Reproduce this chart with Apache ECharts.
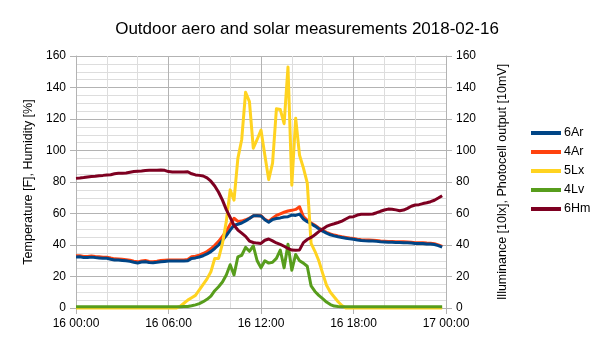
<!DOCTYPE html>
<html>
<head>
<meta charset="utf-8">
<script src="https://cdn.jsdelivr.net/npm/echarts@6/dist/echarts.min.js"></script>
<style>
  html, body { margin: 0; padding: 0; background: #fff; }
  #chart { width: 605px; height: 340px; }
</style>
</head>
<body>
<div id="chart"></div>
<script>
// Sample times, hours after 2018-02-16 00:00 (15-minute log)
const hours = [
  0, 0.25, 0.5, 0.75, 1, 1.25, 1.5, 1.75, 2, 2.25, 2.5, 2.75,
  3, 3.25, 3.5, 3.75, 4, 4.25, 4.5, 4.75, 5, 5.25, 5.5, 5.75,
  6, 6.25, 6.5, 6.75, 7, 7.25, 7.5, 7.75, 8, 8.25, 8.5, 8.75,
  9, 9.25, 9.5, 9.75, 10, 10.25, 10.5, 10.75, 11, 11.25, 11.5, 11.75,
  12, 12.25, 12.5, 12.75, 13, 13.25, 13.5, 13.75, 14, 14.25, 14.5, 14.75,
  15, 15.25, 15.5, 15.75, 16, 16.25, 16.5, 16.75, 17, 17.25, 17.5, 17.75,
  18, 18.25, 18.5, 18.75, 19, 19.25, 19.5, 19.75, 20, 20.25, 20.5, 20.75,
  21, 21.25, 21.5, 21.75, 22, 22.25, 22.5, 22.75, 23, 23.25, 23.5, 23.75
];

// 6Ar - temperature [F]
const ar6 = [
  32.4, 32.5, 32.0, 32.0, 32.3, 32.0, 31.8, 31.6, 31.6, 31.0, 30.5, 30.4,
  30.2, 30.0, 29.6, 29.0, 28.6, 29.2, 29.4, 28.9, 28.7, 29.0, 29.4, 29.6,
  29.8, 29.8, 29.8, 29.8, 29.8, 30.0, 31.5, 31.8, 32.4, 33.2, 34.3, 35.8,
  37.8, 40.0, 43.0, 46.0, 49.5, 52.5, 53.2, 54.0, 55.3, 56.8, 58.5, 58.6,
  58.4, 56.0, 54.5, 56.2, 56.8, 57.2, 57.8, 58.0, 59.0, 58.8, 59.6, 56.5,
  54.8, 53.5, 52.0, 50.3, 48.8, 47.6, 46.5, 45.8, 45.2, 44.7, 44.3, 43.9,
  43.6, 43.2, 42.9, 42.7, 42.6, 42.5, 42.3, 42.0, 41.9, 41.8, 41.7, 41.6,
  41.6, 41.5, 41.4, 41.2, 41.0, 41.0, 40.9, 40.7, 40.6, 40.3, 39.6, 38.6
];

// 4Ar - temperature [F]
const ar4 = [
  33.1, 33.2, 32.7, 32.7, 33.0, 32.7, 32.5, 32.3, 32.3, 31.7, 31.2, 31.1,
  30.9, 30.7, 30.3, 29.7, 29.3, 29.9, 30.1, 29.6, 29.4, 29.7, 30.1, 30.3,
  30.5, 30.5, 30.5, 30.5, 30.5, 30.8, 32.5, 32.9, 33.6, 34.6, 35.9, 37.6,
  39.8, 42.3, 45.5, 48.8, 53.0, 57.0, 55.0, 55.2, 56.0, 57.0, 58.5, 58.8,
  58.6, 56.3, 55.0, 57.0, 58.8, 59.8, 60.8, 61.6, 62.0, 62.6, 64.3, 58.0,
  55.6, 54.0, 52.5, 50.8, 49.3, 48.0, 47.0, 46.3, 45.7, 45.2, 44.8, 44.4,
  44.1, 43.7, 43.4, 43.2, 43.1, 43.0, 42.8, 42.5, 42.4, 42.3, 42.2, 42.1,
  42.1, 42.0, 41.9, 41.7, 41.5, 41.5, 41.4, 41.2, 41.1, 40.8, 40.1, 39.1
];

// 5Lx - illuminance [10lx]
const lx5 = [
  0, 0, 0, 0, 0, 0, 0, 0, 0, 0, 0, 0,
  0, 0, 0, 0, 0, 0, 0, 0, 0, 0, 0, 0,
  0, 0, 0, 1.0, 3.0, 5.0, 6.5, 8.0, 11.5, 15.0, 18.5, 23.0,
  31.5, 31.5, 41.0, 55.0, 75.0, 68.5, 95.0, 107.0, 137.0, 131.0, 101.5, 107.0,
  113.0, 97.0, 81.5, 92.0, 126.5, 126.0, 117.0, 153.0, 78.0, 120.5, 97.0, 89.0,
  79.5, 41.0, 36.0, 30.0, 22.0, 14.5, 10.0, 7.0, 4.0, 1.5, 0, 0,
  0, 0, 0, 0, 0, 0, 0, 0, 0, 0, 0, 0,
  0, 0, 0, 0, 0, 0, 0, 0, 0, 0, 0, 0
];

// 4Lv - photocell output [10mV]
const lv4 = [
  0.8, 0.8, 0.8, 0.8, 0.8, 0.8, 0.8, 0.8, 0.8, 0.8, 0.8, 0.8,
  0.8, 0.8, 0.8, 0.8, 0.8, 0.8, 0.8, 0.8, 0.8, 0.8, 0.8, 0.8,
  0.8, 0.8, 0.8, 0.8, 0.9, 1.0, 1.4, 2.0, 2.8, 4.0, 5.5, 7.5,
  11.0, 13.5, 16.5, 21.0, 27.5, 21.0, 32.5, 33.5, 38.5, 36.0, 39.5, 30.0,
  25.5, 30.0, 28.5, 29.0, 31.5, 36.8, 25.5, 40.5, 24.0, 34.0, 30.0, 28.5,
  26.5, 14.0, 10.5, 8.0, 6.0, 3.8, 2.2, 1.2, 0.9, 0.8, 0.8, 0.8,
  0.8, 0.8, 0.8, 0.8, 0.8, 0.8, 0.8, 0.8, 0.8, 0.8, 0.8, 0.8,
  0.8, 0.8, 0.8, 0.8, 0.8, 0.8, 0.8, 0.8, 0.8, 0.8, 0.8, 0.8
];

// 6Hm - relative humidity [%]
const hm6 = [
  82.3, 82.5, 82.8, 83.2, 83.5, 83.6, 84.0, 84.2, 84.5, 84.6, 85.2, 85.5,
  85.6, 85.7, 86.2, 86.6, 86.8, 87.0, 87.3, 87.4, 87.4, 87.5, 87.6, 87.4,
  86.6, 86.4, 86.4, 86.4, 86.3, 86.5, 85.2, 84.5, 84.2, 83.8, 82.6, 80.5,
  77.5, 73.5, 68.5, 62.5, 57.5, 52.5, 49.5, 47.5, 45.5, 42.5, 41.6, 41.2,
  41.0, 43.0, 43.8, 42.6, 41.3, 40.4, 39.2, 37.8, 36.8, 36.7, 36.9, 41.5,
  43.5, 44.8, 46.5, 48.5, 50.2, 51.8, 52.8, 53.5, 54.3, 55.2, 56.5, 57.8,
  58.0, 59.0, 59.5, 59.6, 59.6, 59.7, 60.5, 61.4, 62.2, 62.8, 62.7, 62.3,
  61.8, 62.2, 63.3, 64.6, 65.4, 65.6, 66.3, 66.8, 67.5, 68.4, 69.8, 71.3
];

const xTickLabels = ['16 00:00', '16 06:00', '16 12:00', '16 18:00', '17 00:00'];

const FONT = '"Liberation Sans", Arial, sans-serif';
const MAJOR = '#b3b3b3';
const MINOR = '#dddddd';

function pairs(vals) { return hours.map((h, i) => [h, vals[i]]); }

function lineSeries(name, vals, color, yIndex, z) {
  return {
    name: name, type: 'line', data: pairs(vals), yAxisIndex: yIndex,
    showSymbol: false, symbol: 'none', clip: false, z: z,
    lineStyle: { color: color, width: 3, join: 'round' },
    itemStyle: { color: color },
    emphasis: { disabled: true }
  };
}

function yAxisBase(pos) {
  return {
    type: 'value', position: pos, min: 0, max: 160, interval: 20,
    axisLine: { show: true, lineStyle: { color: MAJOR } },
    axisTick: { show: true, length: 6, lineStyle: { color: MAJOR } },
    axisLabel: { color: '#000', fontFamily: FONT, fontSize: 12, margin: 10 },
    nameLocation: 'middle', nameRotate: 90,
    nameTextStyle: { color: '#000', fontFamily: FONT, fontSize: 12.5 }
  };
}

const chart = echarts.init(document.getElementById('chart'), null, { renderer: 'canvas' });

const yLeft = yAxisBase('left');
yLeft.name = 'Temperature [F], Humidity [%]';
yLeft.nameGap = 40;
yLeft.splitLine = { show: true, lineStyle: { color: MAJOR, width: 1 } };
yLeft.minorTick = { show: false, splitNumber: 4 };
yLeft.minorSplitLine = { show: true, lineStyle: { color: MINOR, width: 1 } };

const yRight = yAxisBase('right');
yRight.name = 'Illuminance [10lx], Photocell output [10mV]';
yRight.nameGap = 50;
yRight.splitLine = { show: false };

chart.setOption({
  animation: false,
  backgroundColor: '#fff',
  title: {
    text: 'Outdoor aero and solar measurements 2018-02-16',
    left: 302, top: 16, textAlign: 'center',
    textStyle: { color: '#000', fontFamily: FONT, fontSize: 17, fontWeight: 'normal' }
  },
  grid: { left: 76, right: 159, top: 56, bottom: 32, containLabel: false },
  legend: {
    orient: 'vertical', left: 526, top: 121,
    icon: 'rect', itemWidth: 30, itemHeight: 4, itemGap: 5,
    textStyle: { color: '#000', fontFamily: FONT, fontSize: 12.5, lineHeight: 14, padding: [0, 0, 0, -2] },
    data: ['6Ar', '4Ar', '5Lx', '4Lv', '6Hm']
  },
  xAxis: {
    type: 'value', min: 0, max: 24, interval: 6,
    axisLine: { show: true, onZero: false, lineStyle: { color: MAJOR } },
    axisTick: { show: true, length: 6, lineStyle: { color: MAJOR } },
    axisLabel: {
      color: '#000', fontFamily: FONT, fontSize: 12, margin: 10,
      formatter: v => xTickLabels[Math.round(v / 6)]
    },
    splitLine: { show: true, lineStyle: { color: MAJOR, width: 1 } },
    minorTick: { show: false, splitNumber: 3 },
    minorSplitLine: { show: true, lineStyle: { color: MINOR, width: 1 } }
  },
  yAxis: [yLeft, yRight],
  series: [
    lineSeries('4Ar', ar4, '#ff420e', 0, 2),
    lineSeries('6Ar', ar6, '#004586', 0, 3),
    lineSeries('5Lx', lx5, '#ffd320', 1, 4),
    lineSeries('4Lv', lv4, '#579d1c', 1, 5),
    lineSeries('6Hm', hm6, '#7e0021', 0, 6)
  ]
});
</script>
</body>
</html>
